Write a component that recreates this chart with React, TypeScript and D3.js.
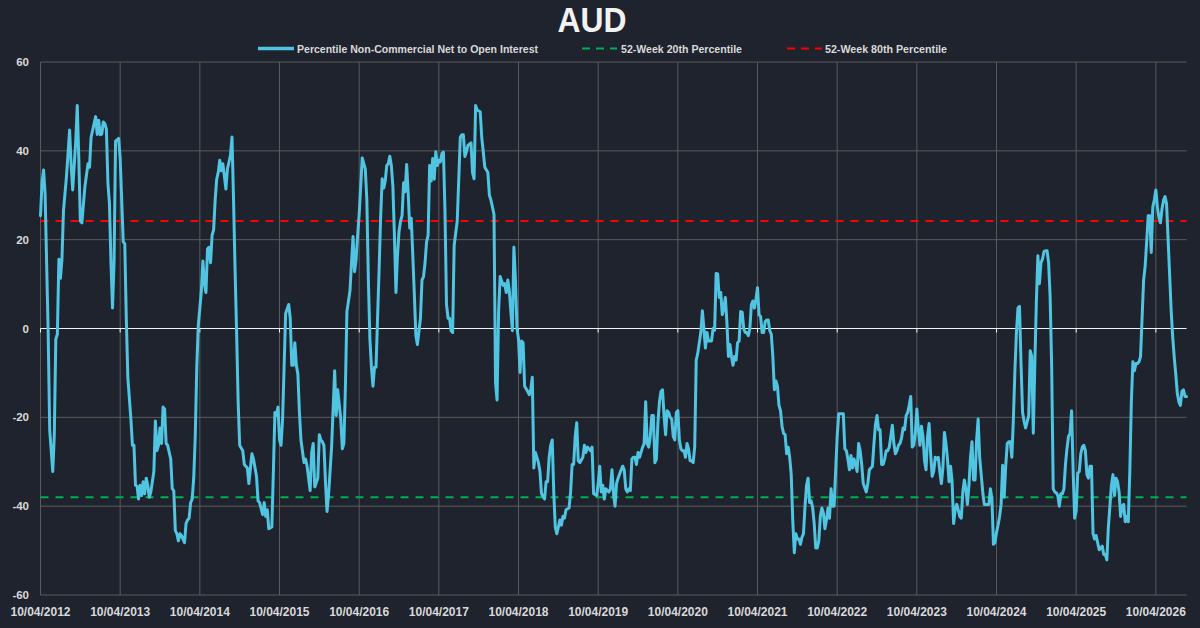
import React from "react";
import * as d3 from "d3";

const TITLE = "AUD";
const START_YEAR = 2012;
const TICK_YEARS = d3.range(2012, 2027);
const Y_TICKS = [-60, -40, -20, 0, 20, 40, 60];
const PCT20 = -38.0;
const PCT80 = 24.2;
const LEGEND_LABELS = [
  "Percentile Non-Commercial Net to Open Interest",
  "52-Week 20th Percentile",
  "52-Week 80th Percentile",
];

// [week index from 10/04/2012, percentile value]
const seriesPoints: [number, number][] = [
  [0,25.4],[1,32.8],[2,35.7],[3,30.4],[4,14.8],[5,-0.9],[6,-22.8],[8,-32.2],[9,-24],[10,-2.4],[11,-1.3],[12,15.6],[13,11.3],[14,15.6],[15,26.5],[17,34.4],[19,44.7],[20,36.7],[21,31.2],[23,42.2],[24,50.2],[25,38.3],[26,24.2],[27,23.8],[29,32],[31,37.1],[32,36.3],[33,43],[36,47.7],[37,43.7],[38,46.9],[39,43.6],[40,43.8],[41,46.5],[42,46.1],[43,44.9],[44,32.8],[45,28.1],[46,14.8],[47,4.6],[48,14.8],[49,42.2],[51,42.8],[52,38.3],[53,28.9],[54,19.5],[55,19.1],[56,2.3],[57,-11],[59,-20.4],[60,-26.3],[61,-26.3],[62,-35.3],[63,-35.5],[64,-38.4],[65,-35.3],[66,-37.6],[67,-34.5],[68,-37.2],[69,-33.7],[70,-35.3],[71,-38],[72,-36.8],[74,-32.2],[75,-20.8],[76,-27.5],[77,-26.3],[78,-22.4],[79,-25.9],[80,-17.7],[81,-18.1],[82,-25.9],[83,-26.3],[85,-29.4],[86,-36.1],[87,-36.5],[88,-45.5],[89,-46.2],[90,-47.8],[91,-46.2],[92,-46.6],[94,-48.2],[95,-43.9],[96,-43.1],[97,-42.7],[98,-39.2],[99,-38.4],[100,-33.7],[101,-24.3],[102,-8.7],[103,0.7],[105,8.5],[106,15.2],[107,10.1],[108,8.1],[109,17.9],[110,18.3],[111,14.8],[112,21],[113,22.2],[114,28.9],[115,33.6],[116,35.1],[117,37.9],[118,35.5],[119,37.1],[120,34.4],[121,31.4],[122,35.9],[124,39],[125,43.1],[126,28.9],[127,13.2],[128,-0.9],[129,-16.5],[130,-26.3],[132,-27.5],[133,-30.6],[135,-31.4],[136,-34.9],[138,-28.2],[139,-29.4],[141,-33.3],[142,-38.8],[143,-39.2],[145,-41.9],[146,-39.2],[147,-42.3],[148,-40.8],[149,-45.1],[151,-44.7],[152,-32.2],[153,-18.9],[154,-19.6],[155,-17.7],[156,-25.1],[157,-26.3],[158,-20.4],[159,-8.7],[160,3.4],[162,5.4],[163,2.3],[164,-8.3],[165,-8.3],[166,-3.2],[167,-8.3],[168,-10.3],[169,-18.9],[170,-25.1],[172,-30.2],[173,-29.4],[174,-31],[176,-36.5],[177,-27.9],[178,-25.9],[179,-35.7],[181,-33.7],[182,-23.9],[183,-25.1],[184,-25.5],[185,-26.3],[186,-34.5],[187,-41.2],[188,-37.6],[190,-26.7],[192,-9.5],[193,-19.6],[194,-13.8],[196,-20.4],[197,-27.1],[198,-25.9],[199,-13.4],[200,3.8],[202,8.5],[203,14.8],[204,20.7],[205,12.8],[206,15.6],[207,21],[208,25.7],[209,32],[210,38.4],[212,35.9],[213,28.9],[214,10.9],[215,-2.4],[216,-8.7],[217,-13],[218,-8.7],[219,-8.7],[220,2.3],[221,13.2],[222,25],[223,33.7],[224,31.6],[225,33.2],[226,36.7],[227,37.1],[228,38.8],[229,36.7],[230,32],[231,21],[232,8.1],[233,16.4],[234,21.8],[235,24.2],[236,25.4],[237,32.8],[238,30.8],[239,36.9],[240,30.4],[241,22.6],[242,24.8],[243,16.4],[244,7.7],[245,-1.6],[246,-3.6],[248,2.3],[249,10.9],[250,11.7],[251,14.8],[252,19.5],[253,21],[254,36.7],[255,33.2],[256,38.3],[257,33.6],[258,39.8],[259,36.7],[260,37.9],[261,37.5],[262,39.4],[263,39.7],[264,26.5],[265,5.4],[266,2.3],[267,2.3],[268,-0.5],[269,-0.9],[270,18.7],[272,24.2],[273,33.6],[274,43],[275,43.6],[276,43.6],[277,38.7],[278,39.8],[279,41.2],[281,41.8],[282,35.1],[283,33.7],[284,50.2],[285,49.2],[287,48.8],[288,43],[289,39.8],[290,36.3],[292,35.1],[293,30],[294,28.9],[295,27.3],[296,25.7],[297,-12.2],[298,-16.1],[299,3.8],[300,11.7],[302,9.7],[303,10.1],[304,8.1],[305,10.9],[306,8.5],[307,3.8],[308,-0.5],[309,18.3],[310,10.9],[311,0],[312,-2.4],[313,-9.9],[314,-2.8],[315,-3.2],[316,-13],[318,-14.2],[319,-14.9],[320,-13.8],[321,-11],[322,-31.4],[323,-27.9],[325,-30.2],[326,-32.2],[327,-37.2],[329,-38.4],[330,-34.5],[331,-34.5],[332,-29],[333,-26.3],[334,-25.1],[335,-36.8],[336,-44.7],[337,-46.2],[338,-44.7],[339,-43.1],[340,-44.3],[341,-42.3],[342,-42.7],[343,-40.8],[345,-40.4],[346,-36.8],[347,-30.6],[348,-30.6],[349,-24.3],[350,-21.2],[351,-29.8],[352,-30.2],[354,-29],[355,-26.3],[356,-27.9],[357,-26.7],[358,-27.1],[359,-27.5],[360,-26.7],[361,-37.2],[363,-37.6],[364,-34.9],[365,-31],[366,-36.8],[367,-35.3],[368,-38.4],[369,-36.1],[371,-36.8],[372,-36.1],[373,-31.8],[374,-37.2],[375,-40],[376,-34.9],[377,-33.7],[379,-31.8],[380,-31],[381,-31.8],[382,-36.1],[383,-36.8],[384,-36.1],[385,-36.5],[386,-29.4],[387,-29],[388,-29],[389,-30.6],[390,-27.9],[391,-29],[393,-26.7],[394,-25.9],[395,-16.5],[396,-25.9],[397,-26.7],[398,-24.3],[399,-19.6],[400,-19.6],[401,-30.2],[402,-29.4],[403,-21.2],[404,-16.5],[405,-14.2],[406,-13.8],[407,-19.6],[408,-23.9],[409,-18.5],[410,-18.9],[411,-20],[412,-20.4],[413,-24.3],[414,-25.1],[415,-18.9],[416,-18.5],[417,-25.1],[418,-27.1],[419,-27.5],[420,-27.5],[421,-29],[422,-25.9],[423,-27.1],[424,-29.8],[425,-29.8],[426,-30.2],[427,-26.7],[428,-7.1],[429,-5.6],[430,-3.2],[431,-0.9],[432,4],[433,0],[434,-4.4],[435,-0.9],[436,-2.8],[437,-2.8],[438,-2.8],[439,0],[440,-0.4],[441,12.4],[442,12.3],[443,7],[444,8.1],[445,3.1],[446,4.6],[447,7],[448,1.5],[449,-6.3],[450,-3.6],[451,-6.3],[452,-8.3],[453,-6.3],[454,-7.1],[455,-3.2],[456,-2.8],[457,3.8],[458,3.7],[459,0],[460,-0.9],[461,-0.9],[462,-1.6],[463,0],[464,5.4],[465,6.2],[466,4.6],[467,6.6],[468,9.2],[469,3.1],[470,2.7],[471,-0.9],[472,-0.9],[473,1.5],[474,1.9],[475,1.9],[476,-0.5],[477,-1.3],[478,-6.3],[479,-13.8],[480,-11.8],[481,-13],[482,-17.3],[483,-18.5],[484,-22],[485,-23.6],[486,-23.9],[487,-28.2],[488,-26.7],[489,-29],[490,-32.9],[491,-43.1],[492,-50.5],[493,-46.2],[494,-47.4],[495,-47.4],[496,-48.6],[497,-47],[498,-46.2],[499,-40],[500,-35.3],[501,-33.7],[502,-39.2],[503,-38.8],[504,-40.4],[505,-43.9],[506,-49.4],[507,-49.4],[508,-47.8],[509,-42.3],[510,-40.4],[511,-41.5],[512,-45.1],[513,-43.1],[514,-40.4],[515,-42.7],[516,-36.1],[517,-40],[518,-40],[519,-32],[520,-24.3],[521,-19.2],[522,-19.2],[523,-19.2],[524,-19.2],[525,-27.1],[526,-27.5],[527,-29.4],[528,-31.8],[529,-28.6],[530,-31.4],[531,-29.4],[532,-30.6],[533,-32.2],[534,-25.9],[535,-27.5],[536,-30.6],[537,-34.9],[539,-36.8],[540,-34.9],[541,-31.8],[543,-31],[544,-25.9],[545,-21.6],[546,-19.6],[547,-22.8],[548,-22.8],[549,-30.6],[550,-30.6],[551,-29.4],[552,-27.5],[553,-27.5],[554,-26.7],[556,-21.8],[557,-25.9],[558,-28.2],[559,-27.5],[560,-26.3],[561,-25.9],[562,-24.7],[563,-22.4],[564,-22.8],[565,-19.6],[566,-18.9],[567,-17.3],[568,-15.3],[569,-26.7],[570,-26.3],[571,-23.6],[572,-18.1],[573,-22.8],[574,-26.3],[575,-22],[576,-24.3],[577,-29.8],[578,-31.8],[579,-24.3],[580,-21.4],[581,-28.2],[582,-33.3],[583,-32.2],[584,-29],[585,-29.4],[586,-29],[587,-32.2],[588,-34.9],[589,-31.4],[590,-23.4],[591,-25.9],[592,-29.4],[593,-34.5],[594,-31],[595,-34.5],[596,-43.9],[597,-40.8],[598,-39.6],[599,-40.8],[600,-42.3],[601,-42.7],[602,-36.8],[603,-34.1],[604,-36.1],[605,-39.6],[606,-35.3],[607,-29],[608,-25.5],[609,-34.1],[610,-34.1],[611,-25.1],[612,-20.4],[613,-29],[614,-32.9],[615,-36.8],[616,-39.6],[618,-39.6],[619,-39.6],[620,-36.1],[621,-38.4],[622,-48.6],[623,-48.2],[624,-45.9],[625,-44.3],[626,-42.3],[627,-39.6],[628,-30.8],[629,-38],[630,-31],[631,-25.9],[632,-25.5],[633,-25.5],[634,-29],[635,-20.4],[636,-9.5],[637,-0.9],[638,4.6],[639,5],[640,-8],[641,-18.9],[642,-20.9],[643,-22.4],[644,-21],[645,-19.6],[646,-5],[647,-6.3],[648,-23.6],[649,-8],[650,6],[651,16.4],[652,10.1],[653,14.8],[654,15.6],[655,17.3],[656,17.5],[657,17.5],[658,14.8],[659,7],[660,-8.7],[661,-36.1],[662,-36.8],[663,-37],[664,-37.6],[665,-40],[666,-37.2],[667,-37.2],[668,-36.1],[669,-30.6],[670,-27],[671,-24.3],[672,-23.6],[673,-18.5],[674,-32],[675,-42.7],[676,-41.1],[677,-32.6],[678,-32.2],[679,-28.2],[680,-26.7],[681,-26.3],[682,-27.5],[683,-32.9],[684,-33.7],[685,-31],[686,-31],[687,-46.2],[688,-47.4],[689,-46.6],[690,-48.2],[691,-49.8],[692,-49.4],[693,-49],[694,-50.9],[695,-50.9],[696,-52.1],[697,-44.7],[698,-40],[699,-35.3],[700,-32.9],[701,-37.6],[702,-33.7],[703,-34.5],[704,-36.8],[705,-42.3],[706,-40],[707,-39.6],[708,-43.5],[709,-42.3],[710,-43.5],[711,-32.2],[712,-16.5],[713,-7.5],[714,-9.5],[715,-7.9],[716,-7.9],[717,-7.5],[718,-6.3],[719,2.3],[720,10.9],[721,14],[722,19.5],[723,25.4],[724,25.4],[725,17.1],[726,27.3],[727,29],[728,31.2],[729,27.3],[730,25],[731,23.8],[732,26.9],[733,28.9],[734,29.7],[735,28],[736,20],[737,12],[738,4],[739,-2],[740,-6.5],[741,-10.3],[742,-14.6],[743,-16.5],[744,-17.3],[745,-14.2],[746,-13.8],[747,-15.3],[748,-15.3],
];

const W = 1200;
const H = 628;
const BG = "#1f232e";
const TEXT = "#d9d9d9";
const GRID = "#5b5b5b";
const LINE = "#50c4e0";
const RED = "#ff0000";
const GREEN = "#00b050";
const FONT = "'Liberation Sans', Arial, sans-serif";

export default function App() {
  const lastWeek = seriesPoints[seriesPoints.length - 1][0];
  const x = d3.scaleLinear().domain([0, lastWeek]).range([40.5, 1186.5]);
  const y = d3.scaleLinear().domain([-60, 60]).range([595, 62]);
  const line = d3
    .line<[number, number]>()
    .x((d) => x(d[0]))
    .y((d) => y(d[1]))
    .curve(d3.curveLinear);
  const fmt = d3.timeFormat("%d/%m/%Y");
  const start = new Date(START_YEAR, 3, 10);
  const xTicks = TICK_YEARS.map((yr, i) => ({ w: i * 52, label: fmt(d3.timeYear.offset(start, yr - START_YEAR)) }));
  const [x0, x1] = x.range();

  return (
    <svg
      width={W}
      height={H}
      viewBox={`0 0 ${W} ${H}`}
      style={{ position: "absolute", left: 0, top: 0, display: "block" }}
      fontFamily={FONT}
    >
      <rect x={0} y={0} width={W} height={H} fill={BG} />
      {/* title */}
      <text
        x={592}
        y={32}
        textAnchor="middle"
        fill="#f2f2f2"
        fontSize={35}
        fontWeight="bold"
        textLength={69}
        lengthAdjust="spacingAndGlyphs"
      >
        {TITLE}
      </text>
      {/* legend */}
      <g fontSize={11} fontWeight="bold" fill={TEXT}>
        <line x1={258} x2={294} y1={48.5} y2={48.5} stroke={LINE} strokeWidth={3.5} />
        <text x={297} y={52.5} textLength={241} lengthAdjust="spacingAndGlyphs">
          {LEGEND_LABELS[0]}
        </text>
        <line x1={582} x2={617} y1={48.5} y2={48.5} stroke={GREEN} strokeWidth={2} strokeDasharray="8,6" />
        <text x={621} y={52.5} textLength={121} lengthAdjust="spacingAndGlyphs">
          {LEGEND_LABELS[1]}
        </text>
        <line x1={787} x2={822} y1={48.5} y2={48.5} stroke={RED} strokeWidth={2} strokeDasharray="8,6" />
        <text x={825} y={52.5} textLength={122} lengthAdjust="spacingAndGlyphs">
          {LEGEND_LABELS[2]}
        </text>
      </g>
      {/* horizontal gridlines */}
      {Y_TICKS.map((t) => (
        <line key={"h" + t} x1={x0} x2={x1} y1={y(t)} y2={y(t)} stroke={GRID} strokeWidth={1} />
      ))}
      {/* vertical gridlines */}
      {xTicks.map((t) => (
        <line key={"v" + t.w} x1={x(t.w)} x2={x(t.w)} y1={y(60)} y2={y(-60)} stroke={GRID} strokeWidth={1} />
      ))}
      {/* zero line */}
      <line x1={x0} x2={x1} y1={y(0)} y2={y(0)} stroke="#f2f2f2" strokeWidth={1.2} />
      {xTicks.map((t) => (
        <line key={"zt" + t.w} x1={x(t.w)} x2={x(t.w)} y1={y(0)} y2={y(0) + 4} stroke="#f2f2f2" strokeWidth={1} />
      ))}
      {/* y labels */}
      {Y_TICKS.map((t) => (
        <text key={"yl" + t} x={29} y={y(t) + 4} textAnchor="end" fontSize={11.5} fontWeight="bold" fill={TEXT}>
          {t}
        </text>
      ))}
      {/* x labels */}
      {xTicks.map((t) => (
        <text key={"xl" + t.w} x={x(t.w)} y={616} textAnchor="middle" fontSize={12} fontWeight="bold" fill={TEXT}>
          {t.label}
        </text>
      ))}
      {/* percentile reference lines */}
      <line x1={x0} x2={x1} y1={y(PCT80)} y2={y(PCT80)} stroke={RED} strokeWidth={2} strokeDasharray="8,7" />
      <line x1={x0} x2={x1} y1={y(PCT20)} y2={y(PCT20)} stroke={GREEN} strokeWidth={2} strokeDasharray="8,7" />
      {/* series */}
      <path d={line(seriesPoints) || ""} fill="none" stroke={LINE} strokeWidth={3} strokeLinejoin="round" strokeLinecap="round" />
    </svg>
  );
}
